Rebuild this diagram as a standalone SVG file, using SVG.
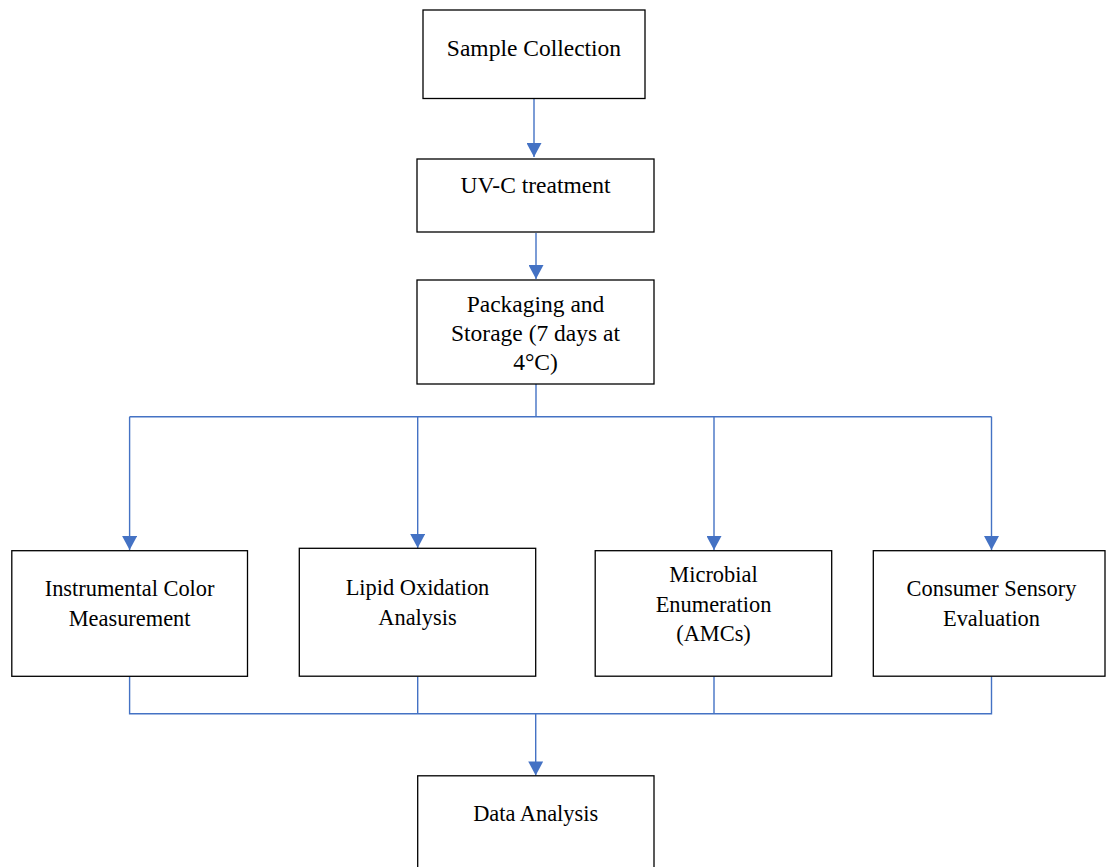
<svg xmlns="http://www.w3.org/2000/svg" width="1106" height="867" viewBox="0 0 1106 867">
<style>
.box{fill:#fff;stroke:#000;stroke-width:1.3}
.t{font-family:"Liberation Serif","Times New Roman",serif;font-size:23.5px;fill:#000;text-anchor:middle}
.s{font-size:22.4px}
.c{fill:none;stroke:#4472C4;stroke-width:1.4}
</style>
<defs>
<marker id="a" markerUnits="userSpaceOnUse" markerWidth="16" markerHeight="15" viewBox="0 0 15 16" refX="15" refY="8" orient="auto">
<path d="M0,0 L15,8 L0,16 Z" fill="#4472C4"/>
</marker>
</defs>
<g id="connectors">
<line class="c" x1="534" y1="99" x2="534" y2="157" marker-end="url(#a)"/>
<line class="c" x1="536" y1="233" x2="536" y2="279" marker-end="url(#a)"/>
<polyline class="c" points="536,384 536,416.7"/>
<polyline class="c" points="129.6,416.7 991.5,416.7"/>
<line class="c" x1="129.6" y1="416.7" x2="129.6" y2="550" marker-end="url(#a)"/>
<line class="c" x1="417.7" y1="416.7" x2="417.7" y2="548" marker-end="url(#a)"/>
<line class="c" x1="714" y1="416.7" x2="714" y2="550" marker-end="url(#a)"/>
<line class="c" x1="991.5" y1="416.7" x2="991.5" y2="550" marker-end="url(#a)"/>
<polyline class="c" points="129.6,676.5 129.6,713.8 991.5,713.8 991.5,676.5"/>
<line class="c" x1="417.7" y1="676.5" x2="417.7" y2="713.8"/>
<line class="c" x1="714" y1="676.5" x2="714" y2="713.8"/>
<line class="c" x1="535.7" y1="713.8" x2="535.7" y2="775.5" marker-end="url(#a)"/>
</g>
<g id="sample">
<rect class="box" x="423" y="10" width="222" height="88.5"/>
<text class="t" x="534" y="55.5">Sample Collection</text>
</g>
<g id="uvc">
<rect class="box" x="417" y="159" width="237" height="73"/>
<text class="t" x="535.5" y="193">UV-C treatment</text>
</g>
<g id="packaging">
<rect class="box" x="417" y="280" width="237" height="104"/>
<text class="t" x="535.5" y="312">Packaging and</text>
<text class="t" x="535.5" y="341">Storage (7 days at</text>
<text class="t" x="535.5" y="370">4°C)</text>
</g>
<g id="color">
<rect class="box" x="11.8" y="550.7" width="235.7" height="125.6"/>
<text class="t s" x="129.6" y="596">Instrumental Color</text>
<text class="t s" x="129.6" y="626">Measurement</text>
</g>
<g id="lipid">
<rect class="box" x="299.3" y="548.3" width="236.4" height="127.9"/>
<text class="t s" x="417.5" y="595">Lipid Oxidation</text>
<text class="t s" x="417.5" y="625">Analysis</text>
</g>
<g id="microbial">
<rect class="box" x="595.2" y="550.7" width="236.5" height="125.5"/>
<text class="t s" x="713.5" y="582">Microbial</text>
<text class="t s" x="713.5" y="612">Enumeration</text>
<text class="t s" x="713.5" y="641">(AMCs)</text>
</g>
<g id="sensory">
<rect class="box" x="873.3" y="550.7" width="231.7" height="125.5"/>
<text class="t s" x="991.5" y="596">Consumer Sensory</text>
<text class="t s" x="991.5" y="626">Evaluation</text>
</g>
<g id="data">
<rect class="box" x="417.7" y="775.8" width="236.3" height="100"/>
<text class="t s" x="535.7" y="821">Data Analysis</text>
</g>
</svg>
